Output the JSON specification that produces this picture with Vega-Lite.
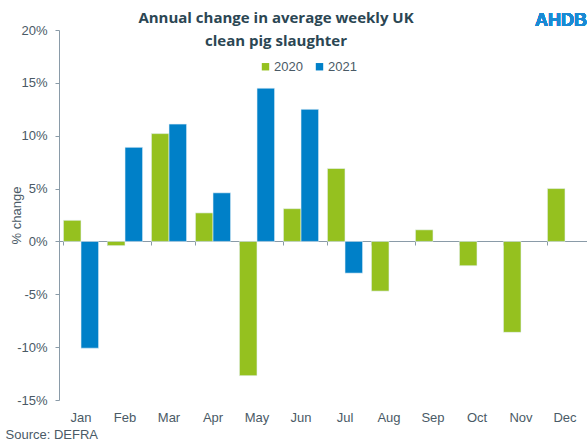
{
  "$schema": "https://vega.github.io/schema/vega-lite/v6.json",
  "width": 528,
  "height": 370,
  "autosize": {"type": "none"},
  "padding": {"left": 59, "top": 30, "right": 0, "bottom": 46},
  "background": "white",
  "config": {"view": {"stroke": null}, "font": "Liberation Sans"},
  "title": {
    "text": ["Annual change in average weekly UK", "clean pig slaughter"],
    "font": "Open Sans",
    "fontSize": 15,
    "fontWeight": "bold",
    "color": "#2b4653",
    "anchor": "middle",
    "frame": "group",
    "dx": -47,
    "dy": 15,
    "lineHeight": 23,
    "baseline": "top",
    "offset": -22
  },
  "data": {
    "values": [
      {"month": "Jan", "year": "2020", "value": 2.0},
      {"month": "Jan", "year": "2021", "value": -10.1},
      {"month": "Feb", "year": "2020", "value": -0.4},
      {"month": "Feb", "year": "2021", "value": 8.9},
      {"month": "Mar", "year": "2020", "value": 10.2},
      {"month": "Mar", "year": "2021", "value": 11.1},
      {"month": "Apr", "year": "2020", "value": 2.7},
      {"month": "Apr", "year": "2021", "value": 4.6},
      {"month": "May", "year": "2020", "value": -12.7},
      {"month": "May", "year": "2021", "value": 14.5},
      {"month": "Jun", "year": "2020", "value": 3.1},
      {"month": "Jun", "year": "2021", "value": 12.5},
      {"month": "Jul", "year": "2020", "value": 6.9},
      {"month": "Jul", "year": "2021", "value": -3.0},
      {"month": "Aug", "year": "2020", "value": -4.7},
      {"month": "Sep", "year": "2020", "value": 1.1},
      {"month": "Oct", "year": "2020", "value": -2.3},
      {"month": "Nov", "year": "2020", "value": -8.6},
      {"month": "Dec", "year": "2020", "value": 5.0}
    ]
  },
  "layer": [
    {
      "mark": {"type": "bar", "stroke": "#e8f2f8", "strokeWidth": 0.6},
      "encoding": {
        "x": {
          "field": "month",
          "type": "nominal",
          "sort": ["Jan","Feb","Mar","Apr","May","Jun","Jul","Aug","Sep","Oct","Nov","Dec"],
          "scale": {"paddingInner": 0.2, "paddingOuter": 0.1},
          "axis": {
            "orient": "bottom",
            "domain": false,
            "ticks": false,
            "labelAngle": 0,
            "labelFontSize": 13,
            "labelColor": "#4a5a66",
            "labelPadding": 11,
            "title": "Source: DEFRA",
            "titleAnchor": "start",
            "titleX": -54,
            "titleY": 34,
            "titleBaseline": "middle",
            "titleAlign": "left",
            "titleFontSize": 13,
            "titleFontWeight": "normal",
            "titleColor": "#4a5a66"
          }
        },
        "xOffset": {"field": "year", "type": "nominal", "scale": {"paddingInner": 0}},
        "y": {
          "field": "value",
          "type": "quantitative",
          "scale": {"domain": [-15, 20], "nice": false},
          "axis": {
            "values": [-15, -10, -5, 0, 5, 10, 15, 20],
            "labelExpr": "datum.value + '%'",
            "grid": false,
            "domainColor": "#8a9ba8",
            "tickColor": "#8a9ba8",
            "tickSize": 4,
            "labelPadding": 8,
            "labelFontSize": 13,
            "labelColor": "#4a5a66",
            "title": "% change",
            "titleFontSize": 13,
            "titleFontWeight": "normal",
            "titleColor": "#4a5a66",
            "titleX": -43,
            "titleBaseline": "middle"
          }
        },
        "color": {
          "field": "year",
          "type": "nominal",
          "scale": {"domain": ["2020", "2021"], "range": ["#95c11f", "#0080c8"]},
          "legend": {
            "orient": "none",
            "legendX": 200,
            "legendY": 30,
            "direction": "horizontal",
            "title": null,
            "symbolType": "square",
            "symbolSize": 55,
            "symbolStrokeWidth": 0,
            "labelFontSize": 13,
            "labelColor": "#4a5a66",
            "labelOffset": 2,
            "columnPadding": 10
          }
        }
      }
    },
    {
      "mark": {"type": "text", "font": "Liberation Sans", "fontSize": 18, "fontWeight": "bold", "color": "#1a8ad4", "baseline": "bottom", "dx": -4, "dy": 0},
      "encoding": {
        "x": {
          "datum": "Dec",
          "type": "nominal",
          "axis": {
            "orient": "bottom",
            "offset": -159,
            "bandPosition": 0,
            "labels": false,
            "domain": true,
            "domainColor": "#8a9ba8",
            "ticks": true,
            "tickColor": "#8a9ba8",
            "tickSize": 4,
            "title": null
          }
        },
        "y": {"datum": 20, "type": "quantitative"},
        "text": {"value": "AHDB"}
      }
    }
  ],
  "resolve": {"axis": {"x": "independent"}}
}
